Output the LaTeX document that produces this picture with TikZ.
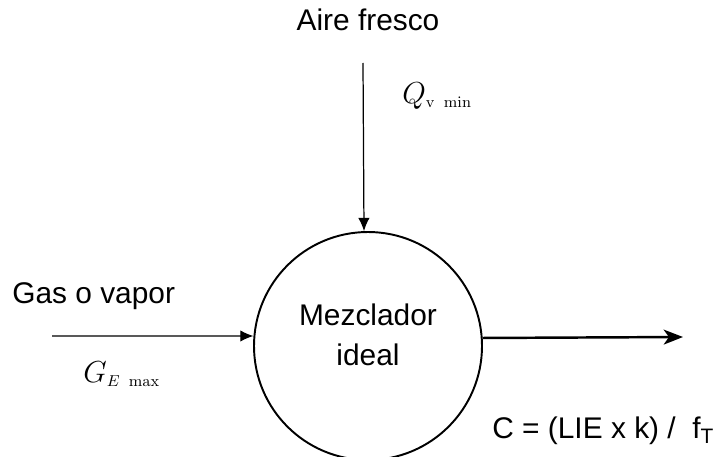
\documentclass[tikz,border=0pt]{standalone}
\usepackage[no-math]{fontspec}
\setmainfont{Liberation Sans}
\usepackage{tikz}
\usetikzlibrary{arrows.meta, positioning}

\begin{document}
\begin{tikzpicture}[
    x=0.02cm, y=-0.02cm,
    lbl/.style={font=\fontsize{17}{20}\selectfont, inner sep=0pt},
    qty/.style={font=\fontsize{19}{22}\selectfont, inner sep=0pt},
    mixer/.style={draw, circle, line width=1.1pt, minimum size=228*0.02cm, inner sep=0pt},
    feed/.style={-{Latex[length=7.5pt,width=6.5pt]}, line width=0.7pt},
    outflow/.style={-{Stealth[length=11pt,width=8.5pt,inset=3pt]}, line width=1.4pt}
]
    \path[use as bounding box, clip] (0,0) rectangle (719,456);

    \node[mixer] (mixer) at (368,346) {};
    \node[lbl, align=center] (mixtext) at (368,335) {Mezclador\\[3pt]ideal};

    \node[lbl] (air) at (368,20) {Aire fresco};
    \node[lbl, anchor=west] (gas) at (12,296) {Gas o vapor};
    \node[qty, anchor=west] (qmin) at (402,96) {$Q_{\scriptscriptstyle\mathrm{v\ min}}$};
    \node[qty, anchor=west] (gmax) at (83,374) {$G_{\scriptscriptstyle E\ \mathrm{max}}$};
    \node[lbl, anchor=west] (conc) at (492,431) {C = (LIE x k) /\ \ f\textsubscript{T}};

    \coordinate (airtop) at (363,63);
    \coordinate (gasleft) at (52,336);
    \coordinate (outend) at (683,337);

    \draw[feed] (airtop) -- (mixer.92.5);
    \draw[feed] (gasleft) -- (mixer.175);
    \draw[outflow] (mixer.4.5) -- (outend);
\end{tikzpicture}
\end{document}
